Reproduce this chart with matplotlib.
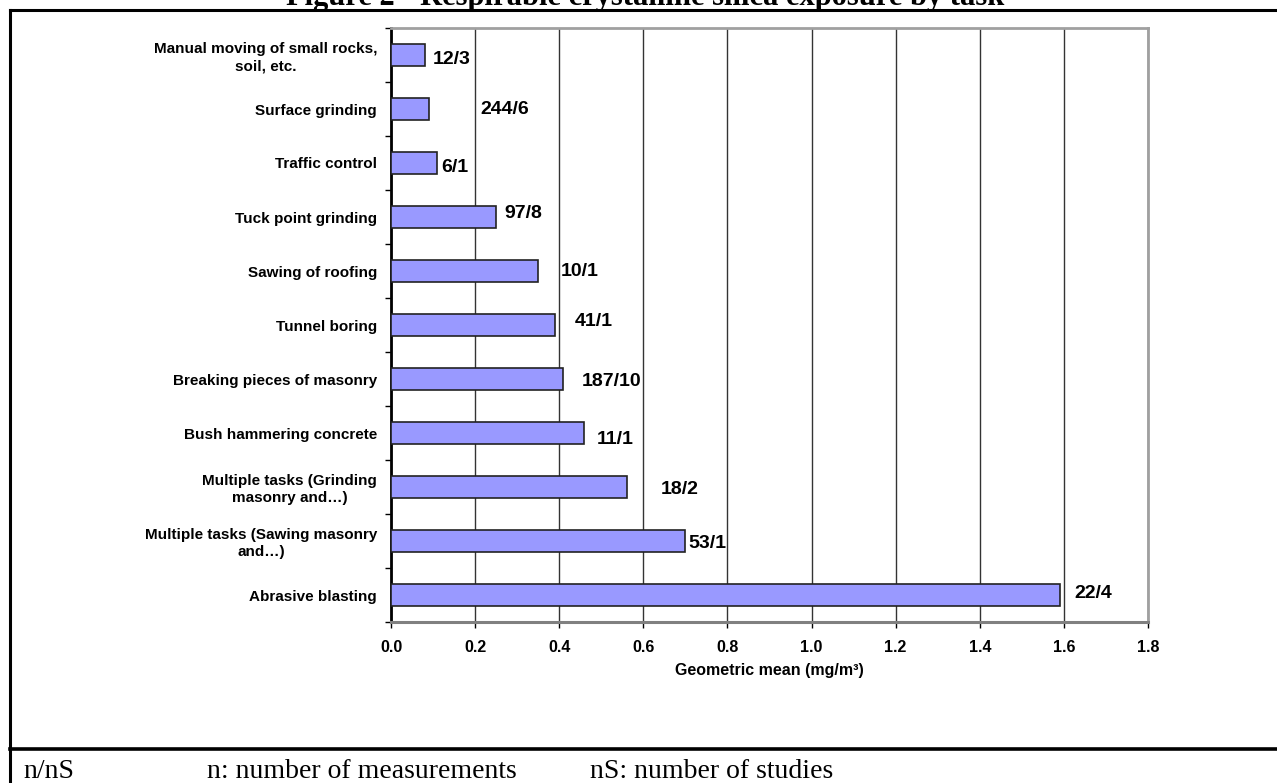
import numpy as np
import matplotlib.pyplot as plt
from matplotlib.lines import Line2D

# data
tasks = ["Manual moving of small rocks,\nsoil, etc.", "Surface grinding", "Traffic control",
         "Tuck point grinding", "Sawing of roofing", "Tunnel boring", "Breaking pieces of masonry",
         "Bush hammering concrete", "Multiple tasks (Grinding\nmasonry and…)",
         "Multiple tasks (Sawing masonry\nand…)", "Abrasive blasting"]
gm = [0.08, 0.09, 0.11, 0.25, 0.35, 0.39, 0.41, 0.46, 0.56, 0.70, 1.59]
n_meas = [12, 244, 6, 97, 10, 41, 187, 11, 18, 53, 22]
n_stud = [3, 6, 1, 8, 1, 1, 10, 1, 2, 1, 4]
xticks = [0.0, 0.2, 0.4, 0.6, 0.8, 1.0, 1.2, 1.4, 1.6, 1.8]

# where the (hand-moved) data labels sit, offset from the bar end in pixels
lab_dx = [8, 52, 4, 8, 23, 20, 18, 12, 34, 3, 15]
lab_dy = [4, 1, 4, -3, 0, -3, 2, 6, 2, 2, -2]

W, H = 1277, 783
fig = plt.figure(figsize=(W / 100, H / 100), dpi=100)
ax = fig.add_axes([391 / W, 1 - 622 / H, (1148 - 391) / W, (622 - 28) / H])

y = np.arange(len(tasks))
ax.barh(y, gm, height=0.39, color="#9999FF", edgecolor="#222222", linewidth=1.2, zorder=3)
ax.set_ylim(len(tasks) - 0.5, -0.5)
ax.set_xlim(0, 1.8)

for i in range(len(tasks)):
    ax.annotate(f"{n_meas[i]}/{n_stud[i]}", xy=(gm[i], y[i]), xytext=(lab_dx[i], -lab_dy[i]),
                textcoords="offset pixels", ha="left", va="center",
                fontsize=14, fontweight="bold", family="Liberation Sans", zorder=4)

ax.set_xticks(xticks)
ax.set_xticklabels([f"{v:.1f}" for v in xticks], fontsize=11.5, fontweight="bold",
                   family="Liberation Sans")
ax.tick_params(axis="x", length=4, width=1, color="black", pad=9)
ax.set_yticks(y)
ax.set_yticklabels(tasks, fontsize=11, fontweight="bold", family="Liberation Sans",
                   multialignment="center", linespacing=1.25)
ax.tick_params(axis="y", which="major", length=0, pad=10)
ax.set_yticks(np.arange(len(tasks) + 1) - 0.5, minor=True)
ax.tick_params(axis="y", which="minor", length=4, width=1, color="black")

ax.grid(axis="x", color="#333333", linewidth=1, zorder=0)
ax.set_xlabel("Geometric mean (mg/m³)", fontsize=11.5, fontweight="bold",
              family="Liberation Sans", labelpad=6)

ax.spines["left"].set_color("black")
ax.spines["left"].set_linewidth(2)
ax.spines["bottom"].set_color("#808080")
ax.spines["bottom"].set_linewidth(2.2)
for s in ["top", "right"]:
    ax.spines[s].set_color("#a0a0a0")
    ax.spines[s].set_linewidth(2)

# page frame around the figure and the footnote row
fig.add_artist(Line2D([10 / W, 1], [1 - 10 / H] * 2, color="black", linewidth=2.2))
fig.add_artist(Line2D([10 / W] * 2, [0, 1 - 10 / H], color="black", linewidth=2.2))
fig.add_artist(Line2D([10 / W, 1], [1 - 749 / H] * 2, color="black", linewidth=2.6))

fig.text(0.505, 1 - 5 / H, "Figure 2 - Respirable crystalline silica exposure by task",
         ha="center", va="baseline", fontsize=22, fontweight="bold", family="Liberation Serif")
fig.text(23 / W, 1 - 778 / H, "n/nS", fontsize=20, family="Liberation Serif", va="baseline")
fig.text(207 / W, 1 - 778 / H, "n: number of measurements", fontsize=20,
         family="Liberation Serif", va="baseline")
fig.text(590 / W, 1 - 778 / H, "nS: number of studies", fontsize=20,
         family="Liberation Serif", va="baseline")

fig.savefig("out.png", dpi=100)
